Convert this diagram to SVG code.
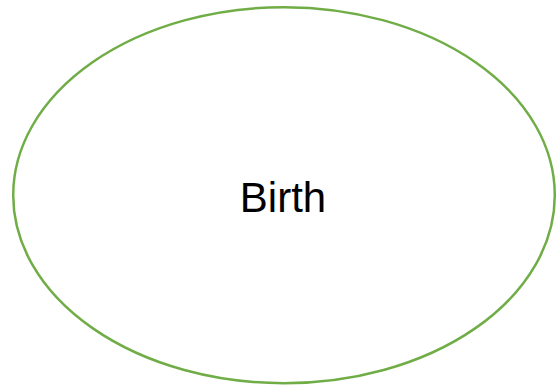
<svg xmlns="http://www.w3.org/2000/svg" width="557" height="389" viewBox="0 0 557 389">
<style>
.node-shape{fill:#FFFFFF;stroke:#70AD47;stroke-width:2.5}
.node-label{font-family:"Liberation Sans",Arial,sans-serif;font-size:42px;fill:#000000;text-anchor:middle}
</style>
<rect width="557" height="389" fill="#FFFFFF"/>
<g id="connectors"></g>
<g id="node-birth">
<ellipse class="node-shape" cx="284" cy="195.2" rx="270.8" ry="188"/>
<text class="node-label" x="283" y="211.7">Birth</text>
</g>
</svg>
